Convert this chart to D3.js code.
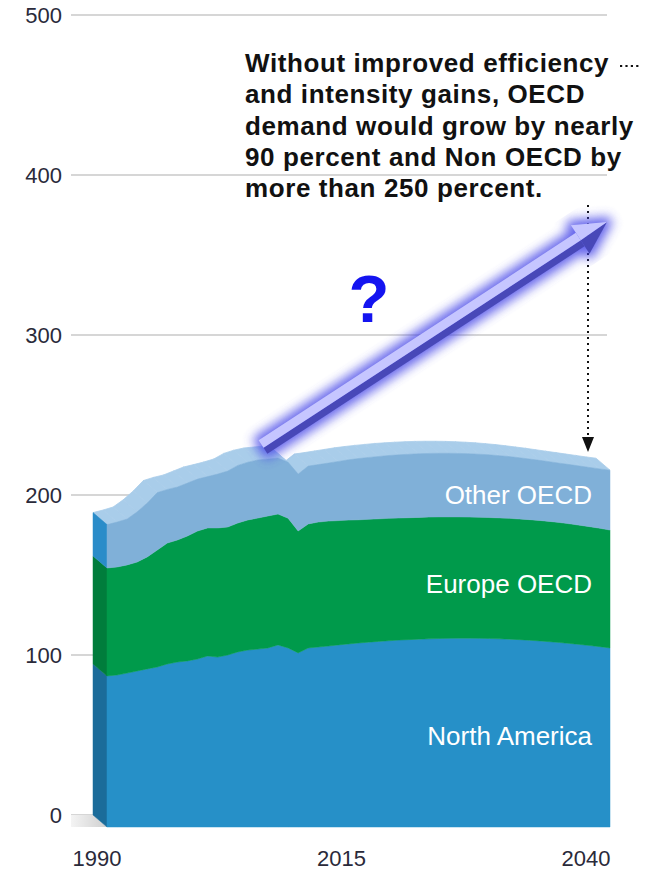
<!DOCTYPE html>
<html><head><meta charset="utf-8">
<script src="https://cdn.jsdelivr.net/npm/d3@7"></script>
<style>
html,body{margin:0;padding:0;background:#fff;}
svg{display:block;font-family:"Liberation Sans",Arial,Helvetica,sans-serif;}
</style></head>
<body>
<svg id="chart" width="645" height="871"></svg>
<script>
// ---- data ----
const years = d3.range(1990, 2041);
const seriesKeys = ["northAmerica", "europeOECD", "otherOECD"];
const seriesLabels = ["North America", "Europe OECD", "Other OECD"];
const northAmerica = [94.4,95.0,96.2,97.5,98.8,100.0,101.9,103.1,103.8,105.0,106.9,
  106.2,107.5,109.4,110.6,111.2,111.9,113.8,111.9,108.8,111.9,
  112.5,113.1,113.8,114.4,115.0,115.5,116.0,116.4,116.8,117.1,
  117.4,117.6,117.8,117.9,118.0,118.0,117.9,117.8,117.6,117.4,
  117.1,116.7,116.3,115.8,115.3,114.7,114.1,113.4,112.7,111.9];
const europeOECD = [67.5,67.5,67.6,68.1,70.0,73.1,75.6,76.3,78.1,80.0,80.0,
  80.7,80.0,80.6,81.3,81.9,82.5,81.8,81.1,76.2,77.5,
  78.1,78.1,77.7,77.4,77.0,76.8,76.6,76.5,76.3,76.2,
  76.1,76.1,76.0,75.9,75.8,75.7,75.7,75.6,75.6,75.5,
  75.4,75.4,75.3,75.2,75.0,74.8,74.5,74.3,74.0,73.7];
const otherOECD = [27.1,28.1,28.7,31.4,33.7,35.9,33.5,33.1,33.1,32.5,32.1,
  33.7,35.0,36.0,36.1,36.3,35.6,35.0,35.0,35.6,36.2,
  35.9,36.3,37.0,37.7,38.3,38.7,39.0,39.3,39.5,39.7,
  39.8,39.8,39.8,39.8,39.7,39.6,39.4,39.2,38.9,38.6,
  38.3,37.9,37.6,37.3,37.1,37.0,37.0,37.0,37.1,37.4];
const yTicks = [0, 100, 200, 300, 400, 500];
const xTicks = [1990, 2015, 2040];
const labelYear = 2036;
const noteLines = ["Without improved efficiency",
  "and intensity gains, OECD",
  "demand would grow by nearly",
  "90 percent and Non OECD by",
  "more than 250 percent."];

// ---- styling ----
const frontColors = ["#2690c8", "#009a4b", "#80b0d8"];
const sideColors = ["#1b6c9a", "#007d3c", "#2a8cc9"];
const topColor = "#a9cdea";
const depth = {dx: -14, dy: -12};

const svg = d3.select("#chart");
const table = years.map((yr, i) => ({year: yr, northAmerica: northAmerica[i], europeOECD: europeOECD[i], otherOECD: otherOECD[i]}));
const stacked = d3.stack().keys(seriesKeys)(table);

const x = d3.scaleLinear().domain([1990, 2040]).range([107, 610]);
const y = d3.scaleLinear().domain([0, 500]).range([827, 27]);
const xLab = d3.scaleLinear().domain([1990, 2040]).range([97, 586]);

const defs = svg.append("defs");
const fg = defs.append("linearGradient").attr("id", "floor").attr("x1", "0").attr("x2", "1").attr("y1", "0").attr("y2", "0");
fg.append("stop").attr("offset", "0").attr("stop-color", "#f4f4f4");
fg.append("stop").attr("offset", "1").attr("stop-color", "#cfcfcf");
const glow = defs.append("filter").attr("id", "glow").attr("x", "-30%").attr("y", "-30%").attr("width", "160%").attr("height", "160%");
glow.append("feGaussianBlur").attr("stdDeviation", 5.5);

// gridlines (back plane)
const grid = svg.append("g");
grid.selectAll("line").data(yTicks).join("line")
  .attr("x1", 71).attr("x2", 607)
  .attr("y1", d => y(d) + depth.dy).attr("y2", d => y(d) + depth.dy)
  .attr("stroke", "#c8c8c8").attr("stroke-width", 1.3);
grid.selectAll("text").data(yTicks).join("text")
  .attr("x", 62).attr("y", d => y(d) + depth.dy).attr("dy", "0.36em")
  .attr("text-anchor", "end").attr("font-size", 22).attr("fill", "#2a2a3a")
  .text(d => d);

// floor shadow
const x0 = x(1990), y0 = y(0);
svg.append("polygon")
  .attr("points", [[71, y0 + depth.dy], [x0 + depth.dx, y0 + depth.dy], [x0, y0], [71, y0]].map(p => p.join(",")).join(" "))
  .attr("fill", "url(#floor)");

// top surface (extrusion of the total line)
const topLayer = stacked[stacked.length - 1];
const topG = svg.append("g");
for (let i = 0; i < topLayer.length - 1; i++) {
  const a = [x(topLayer[i].data.year), y(topLayer[i][1])];
  const b = [x(topLayer[i + 1].data.year), y(topLayer[i + 1][1])];
  const pts = [a, b, [b[0] + depth.dx, b[1] + depth.dy], [a[0] + depth.dx, a[1] + depth.dy]];
  topG.append("polygon").attr("points", pts.map(p => p.join(",")).join(" "))
    .attr("fill", topColor).attr("stroke", topColor).attr("stroke-width", 0.8).attr("stroke-linejoin", "round");
}

// left side faces
stacked.forEach((s, k) => {
  const lo = y(s[0][0]), hi = y(s[0][1]);
  const pts = [[x0, lo], [x0, hi], [x0 + depth.dx, hi + depth.dy], [x0 + depth.dx, lo + depth.dy]];
  svg.append("polygon").attr("points", pts.map(p => p.join(",")).join(" "))
    .attr("fill", sideColors[k]).attr("stroke", sideColors[k]).attr("stroke-width", 0.5);
});

// front faces
const area = d3.area().x(d => x(d.data.year)).y0(d => y(d[0])).y1(d => y(d[1]));
svg.append("g").selectAll("path").data(stacked).join("path")
  .attr("d", area).attr("fill", (d, k) => frontColors[k])
  .attr("stroke", (d, k) => frontColors[k]).attr("stroke-width", 0.5);

// series labels
const li = years.indexOf(labelYear);
svg.append("g").selectAll("text").data(stacked).join("text")
  .attr("x", 592).attr("y", s => y((s[li][0] + s[li][1]) / 2)).attr("dy", "0.36em")
  .attr("text-anchor", "end").attr("font-size", 26).attr("fill", "#ffffff")
  .text((s, k) => seriesLabels[k]);

// x labels
svg.append("g").selectAll("text").data(xTicks).join("text")
  .attr("x", d => xLab(d)).attr("y", 866).attr("text-anchor", "middle")
  .attr("font-size", 22).attr("fill", "#2a2a3a").text(d => d);

// annotation text
svg.append("g").selectAll("text").data(noteLines).join("text")
  .attr("x", 245).attr("y", (d, i) => 72 + i * 31.3)
  .attr("font-size", 26).attr("font-weight", "bold").attr("fill", "#111")
  .attr("letter-spacing", 0.6).text(d => d);
svg.append("line").attr("x1", 620).attr("x2", 640).attr("y1", 66).attr("y2", 66)
  .attr("stroke", "#111").attr("stroke-width", 2.2).attr("stroke-dasharray", "2.2,3.2");

// dotted arrow down
const dotX = 588;
svg.append("line").attr("x1", dotX).attr("x2", dotX).attr("y1", 205).attr("y2", 440)
  .attr("stroke", "#111").attr("stroke-width", 2).attr("stroke-dasharray", "2,4");
svg.append("polygon").attr("points", `${dotX-6},437 ${dotX+6},437 ${dotX},452`).attr("fill", "#111");

// big glowing arrow
const A = [263, 447], B = [607, 222];
const ang = Math.atan2(B[1] - A[1], B[0] - A[0]) * 180 / Math.PI;
const L = Math.hypot(B[0] - A[0], B[1] - A[1]);
const H = 32, W = 8, HW = 17;
const arrow = svg.append("g").attr("transform", `translate(${A[0]},${A[1]}) rotate(${ang})`);
const full = `0,${-W} ${L-H},${-W} ${L-H},${-HW} ${L},0 ${L-H},${HW} ${L-H},${W} 0,${W}`;
arrow.append("polygon").attr("points", full).attr("fill", "#4a4ae8").attr("stroke", "#4a4ae8")
  .attr("stroke-width", 10).attr("stroke-linejoin", "round").attr("opacity", 0.85).attr("filter", "url(#glow)");
arrow.append("polygon").attr("points", `0,1 ${L-H},1 ${L-H},${W} 0,${W}`).attr("fill", "#4848b8");
arrow.append("polygon").attr("points", `${L-H},1 ${L},0 ${L-H},${HW}`).attr("fill", "#4848b8");
arrow.append("polygon").attr("points", `0,${-W} ${L-H},${-W} ${L-H},1 0,1`).attr("fill", "#c6c6ff");
arrow.append("polygon").attr("points", `${L-H},${-HW} ${L},0 ${L-H},1`).attr("fill", "#c6c6ff");

// question mark
svg.append("text").attr("x", 369).attr("y", 322).attr("text-anchor", "middle")
  .attr("font-size", 67).attr("font-weight", "bold").attr("fill", "#1414f0").text("?");
</script>
</body></html>
